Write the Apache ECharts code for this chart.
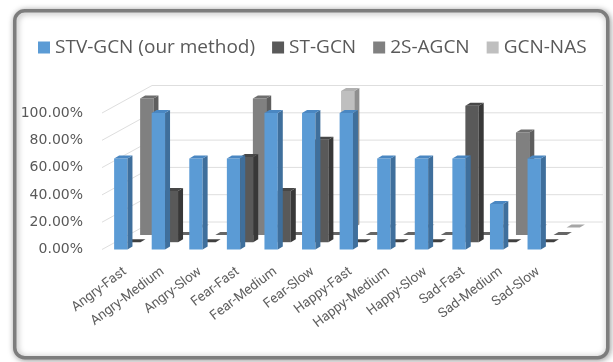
<!DOCTYPE html>
<html><head><meta charset="utf-8">
<script src="https://cdn.jsdelivr.net/npm/echarts@6/dist/echarts.min.js"></script>
<style>html,body{margin:0;padding:0;background:#fff}#chart{width:613px;height:362px}</style>
</head><body><div id="chart"></div>
<script>
// Recognition accuracy per emotion / walking speed
const categories = ['Angry-Fast','Angry-Medium','Angry-Slow','Fear-Fast','Fear-Medium','Fear-Slow','Happy-Fast','Happy-Medium','Happy-Slow','Sad-Fast','Sad-Medium','Sad-Slow'];
const stvGcn = [66.67,100,66.67,66.67,100,100,100,66.67,66.67,66.67,33.33,66.67];
const stGcn  = [0,37.5,0,62.5,37.5,75,0,0,0,100,0,0];
const s2Agcn = [100,0,0,100,0,0,0,0,0,0,75,0];
const gcnNas = [0,0,0,0,0,100,0,0,0,0,0,0];
const yTicks = [0,20,40,60,80,100];

// pseudo-3D geometry
const ROW_DX = 13, ROW_DY = 7.3;   // shift between depth rows
const SIDE_DX = 5, SIDE_DY = 3;    // depth of one column
const WALL_DX = 50, WALL_DY = 27.5; // back wall offset

function boxSeries(name, data, row, colors) {
  return {
    name: name, type: 'custom', coordinateSystem: 'cartesian2d', clip: false,
    itemStyle: { color: colors.front },
    data: data.map((v, i) => [i, v]),
    renderItem(params, api) {
      const i = api.value(0), v = api.value(1);
      const base = api.coord([i, 0]);
      const top = api.coord([i, v]);
      const bw = api.size([1, 0])[0];
      const w = bw * 0.355;
      const ox = row * ROW_DX, oy = -row * ROW_DY;
      const x0 = base[0] - w / 2 + ox, x1 = x0 + w;
      const yb = base[1] + oy, yt = top[1] + oy;
      const children = [];
      if (yb - yt > 0.5) {
        children.push({ type: 'rect', shape: { x: x0, y: yt, width: w, height: yb - yt }, style: { fill: colors.front } });
        children.push({ type: 'polygon', shape: { points: [[x1, yb], [x1, yt], [x1 + SIDE_DX, yt - SIDE_DY], [x1 + SIDE_DX, yb - SIDE_DY]] }, style: { fill: colors.side } });
      }
      children.push({ type: 'polygon', shape: { points: [[x0, yt], [x1, yt], [x1 + SIDE_DX, yt - SIDE_DY], [x0 + SIDE_DX, yt - SIDE_DY]] }, style: { fill: v > 0 ? colors.top : colors.flat } });
      return { type: 'group', children: children };
    }
  };
}

const wallLines = {
  type: 'custom', coordinateSystem: 'cartesian2d', clip: false, silent: true, z: 1,
  data: yTicks.map(t => [0, t]),
  renderItem(params, api) {
    const t = api.value(1);
    const p = api.coord([0, t]);
    const bw = api.size([1, 0])[0];
    const left = p[0] - bw / 2;
    const right = left + bw * categories.length;
    return { type: 'polyline', shape: { points: [[left, p[1]], [left + WALL_DX, p[1] - WALL_DY], [right + WALL_DX, p[1] - WALL_DY]] },
             style: { stroke: '#dedede', lineWidth: 1, fill: null } };
  }
};

const chart = echarts.init(document.getElementById('chart'));
chart.setOption({
  animation: false,
  backgroundColor: '#ffffff',
  graphic: [{
    type: 'rect', left: 13, top: 9, shape: { width: 593, height: 347, r: 10 },
    style: { fill: '#ffffff', stroke: '#7d7d7d', lineWidth: 3.5, shadowBlur: 6, shadowColor: 'rgba(0,0,0,0.35)', shadowOffsetX: 1, shadowOffsetY: 1 },
    z: -10
  }],
  legend: {
    data: ['STV-GCN (our method)', 'ST-GCN', '2S-AGCN', 'GCN-NAS'],
    left: 38, top: 38, padding: 0, icon: 'rect', itemWidth: 12, itemHeight: 12, itemGap: 17,
    textStyle: { fontFamily: 'Open Sans', fontSize: 19, color: '#595959' }
  },
  grid: { left: 102, width: 451, top: 113, bottom: 112.5 },
  xAxis: {
    type: 'category', data: categories,
    axisLine: { show: false }, axisTick: { show: false }, splitLine: { show: false },
    axisLabel: { rotate: 37, margin: 15, interval: 0, verticalAlign: 'top', fontFamily: 'Roboto', fontSize: 13.5, color: '#5f5f5f' }
  },
  yAxis: {
    type: 'value', min: 0, max: 100, interval: 20,
    axisLine: { show: false }, axisTick: { show: false }, splitLine: { show: false },
    axisLabel: { margin: 19, fontFamily: 'DejaVu Sans', fontSize: 14, color: '#595959', formatter: v => v.toFixed(2) + '%' }
  },
  series: [
    wallLines,
    boxSeries('GCN-NAS', gcnNas, 3, { front: '#bfbfbf', side: '#8f8f8f', top: '#b0b0b0', flat: '#a6a6a6' }),
    boxSeries('2S-AGCN', s2Agcn, 2, { front: '#808080', side: '#5e5e5e', top: '#6e6e6e', flat: '#666666' }),
    boxSeries('ST-GCN', stGcn, 1, { front: '#595959', side: '#383838', top: '#474747', flat: '#404040' }),
    boxSeries('STV-GCN (our method)', stvGcn, 0, { front: '#5b9bd5', side: '#3f6f9c', top: '#4a87c2', flat: '#3f6f9c' })
  ]
});
</script>
</body></html>
